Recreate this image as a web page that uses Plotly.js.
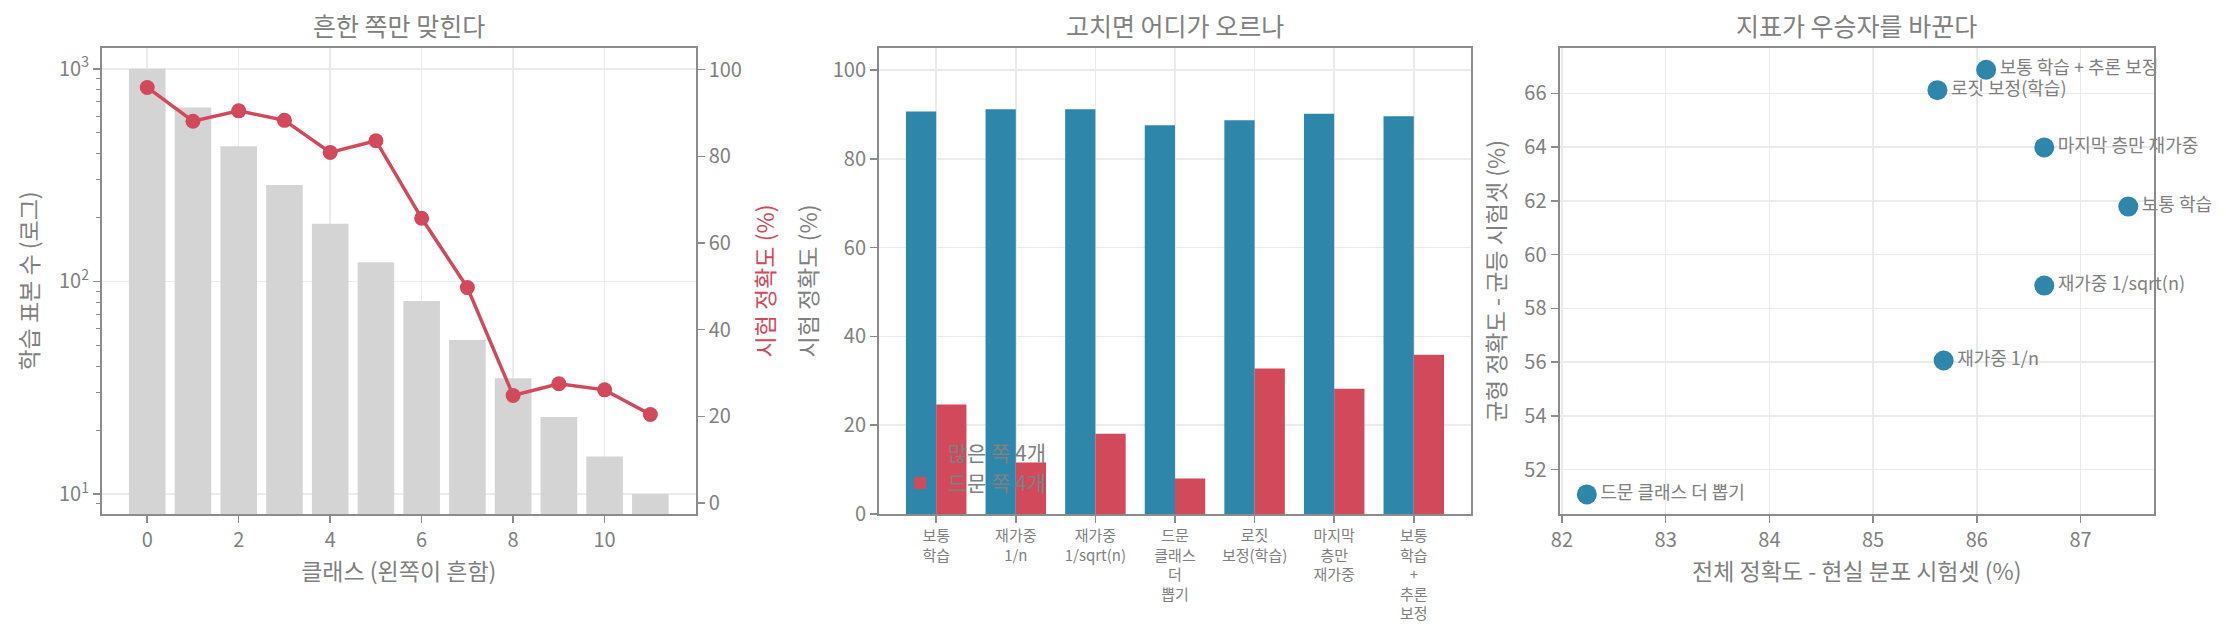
<!DOCTYPE html>
<html>
<head>
<meta charset="utf-8">
<script src="https://cdn.plot.ly/plotly-3.0.1.min.js"></script>
<style>
  html, body { margin: 0; padding: 0; background: #fff; }
  #chart { width: 2226px; height: 642px; }
</style>
</head>
<body>
<div id="chart"></div>
<script>
// panel 1: samples per class (log) and test accuracy per class
const classIds = [0, 1, 2, 3, 4, 5, 6, 7, 8, 9, 10, 11];
const trainCounts = [1000, 657, 432, 284, 187, 123, 81, 53, 35, 23, 15, 10];
const classAccuracy = [95.9, 88.1, 90.5, 88.3, 80.9, 83.6, 65.7, 49.7, 24.8, 27.5, 26.1, 20.4];
const logMajorTicks = [10, 100, 1000];
const logMajorText = ["10<sup>1</sup>", "10<sup>2</sup>", "10<sup>3</sup>"];
const logMinorTicks = [8, 9, 20, 30, 40, 50, 60, 70, 80, 90, 200, 300, 400, 500, 600, 700, 800, 900];

// panel 2: fixes vs. head / tail accuracy
const methodLabels = [
  "보통<br>학습",
  "재가중<br>1/n",
  "재가중<br>1/sqrt(n)",
  "드문<br>클래스<br>더<br>뽑기",
  "로짓<br>보정(학습)",
  "마지막<br>층만<br>재가중",
  "보통<br>학습<br>+<br>추론<br>보정",
];
const headAccuracy = [90.7, 91.2, 91.2, 87.6, 88.7, 90.2, 89.6];
const tailAccuracy = [24.7, 11.6, 18.1, 8.0, 32.8, 28.2, 35.9];

// panel 3: overall vs balanced accuracy
const pointNames = [
  "보통 학습 + 추론 보정",
  "로짓 보정(학습)",
  "마지막 층만 재가중",
  "보통 학습",
  "재가중 1/sqrt(n)",
  "재가중 1/n",
  "드문 클래스 더 뽑기",
];
const overallAccuracy = [86.09, 85.62, 86.65, 87.46, 86.65, 85.68, 82.24];
const balancedAccuracy = [66.88, 66.12, 63.99, 61.79, 58.85, 56.06, 51.08];

const BLUE = "#2e86ab";
const RED = "#d1495b";
const GRAY_TEXT = "#808080";
const AXIS_GRAY = "#8c8c8c";
const GRID = "#ebebeb";
const FONT = "Noto Sans CJK KR, Noto Sans, sans-serif";

const baseAxis = {
  showline: true,
  linecolor: AXIS_GRAY,
  linewidth: 2,
  mirror: true,
  ticks: "outside",
  ticklen: 7,
  tickwidth: 1.5,
  tickcolor: AXIS_GRAY,
  showgrid: true,
  gridcolor: GRID,
  gridwidth: 1.5,
  zeroline: false,
  tickfont: { size: 20, color: GRAY_TEXT },
  title: { font: { size: 23, color: GRAY_TEXT } },
};

const countBars = {
  x: classIds,
  y: trainCounts,
  type: "bar",
  width: 0.8,
  marker: { color: "#d4d4d4" },
  xaxis: "x",
  yaxis: "y",
  showlegend: false,
  hoverinfo: "skip",
};

const accuracyLine = {
  x: classIds,
  y: classAccuracy,
  type: "scatter",
  mode: "lines+markers",
  line: { color: RED, width: 3.5 },
  marker: { color: RED, size: 15 },
  xaxis: "x",
  yaxis: "y2",
  showlegend: false,
};

const headBars = {
  x: methodLabels,
  y: headAccuracy,
  type: "bar",
  width: 0.38,
  offset: -0.38,
  marker: { color: BLUE },
  name: "많은 쪽 4개",
  xaxis: "x2",
  yaxis: "y3",
};

const tailBars = {
  x: methodLabels,
  y: tailAccuracy,
  type: "bar",
  width: 0.38,
  offset: 0,
  marker: { color: RED },
  name: "드문 쪽 4개",
  xaxis: "x2",
  yaxis: "y3",
};

const tradeoffPoints = {
  x: overallAccuracy,
  y: balancedAccuracy,
  text: pointNames,
  type: "scatter",
  mode: "markers+text",
  textposition: "middle right",
  textfont: { size: 18, color: GRAY_TEXT, family: FONT },
  cliponaxis: false,
  marker: { color: BLUE, size: 20 },
  xaxis: "x3",
  yaxis: "y4",
  showlegend: false,
};

const panelTitle = (text, xCenter) => ({
  text: text,
  xref: "paper",
  yref: "paper",
  x: xCenter,
  y: 1.05,
  xanchor: "center",
  yanchor: "middle",
  showarrow: false,
  font: { size: 25, color: GRAY_TEXT },
});

const chartLayout = {
  width: 2226,
  height: 642,
  margin: { l: 0, r: 0, t: 48, b: 128 },
  paper_bgcolor: "#ffffff",
  plot_bgcolor: "#ffffff",
  font: { family: FONT, color: GRAY_TEXT },
  barmode: "overlay",
  xaxis: {
    ...baseAxis,
    domain: [0.0458, 0.3125],
    range: [-0.99, 11.99],
    tickvals: [0, 2, 4, 6, 8, 10],
    title: { ...baseAxis.title, text: "클래스 (왼쪽이 흔함)", standoff: 8 },
    anchor: "y",
  },
  yaxis: {
    ...baseAxis,
    type: "log",
    range: [0.906, 3.098],
    tickvals: logMajorTicks,
    ticktext: logMajorText,
    minor: {
      tickmode: "array",
      tickvals: logMinorTicks,
      ticks: "outside",
      ticklen: 4,
      tickwidth: 1,
      tickcolor: AXIS_GRAY,
      showgrid: false,
    },
    title: { ...baseAxis.title, text: "학습 표본 수 (로그)", standoff: 14 },
    anchor: "x",
  },
  yaxis2: {
    ...baseAxis,
    overlaying: "y",
    side: "right",
    range: [-2.55, 105],
    dtick: 20,
    showgrid: false,
    mirror: false,
    title: { text: "시험 정확도 (%)", font: { size: 23, color: RED }, standoff: 17 },
    anchor: "x",
  },
  xaxis2: {
    ...baseAxis,
    domain: [0.3949, 0.6608],
    type: "category",
    range: [-0.718, 6.718],
    tickfont: { size: 15, color: GRAY_TEXT },
    anchor: "y3",
  },
  yaxis3: {
    ...baseAxis,
    range: [0, 105],
    dtick: 20,
    title: { ...baseAxis.title, text: "시험 정확도 (%)", standoff: 9 },
    anchor: "x2",
  },
  xaxis3: {
    ...baseAxis,
    domain: [0.7006, 0.9677],
    range: [81.977, 87.709],
    dtick: 1,
    title: { ...baseAxis.title, text: "전체 정확도 - 현실 분포 시험셋 (%)", standoff: 8 },
    anchor: "y4",
  },
  yaxis4: {
    ...baseAxis,
    range: [50.35, 67.69],
    dtick: 2,
    title: { ...baseAxis.title, text: "균형 정확도 - 균등 시험셋 (%)", standoff: 12 },
    anchor: "x3",
  },
  legend: {
    x: 0.401,
    y: 0.175,
    xanchor: "left",
    yanchor: "top",
    bgcolor: "rgba(0,0,0,0)",
    font: { size: 21, color: GRAY_TEXT },
    itemwidth: 45,
    traceorder: "normal",
  },
  annotations: [
    panelTitle("흔한 쪽만 맞힌다", 0.1792),
    panelTitle("고치면 어디가 오르나", 0.5279),
    panelTitle("지표가 우승자를 바꾼다", 0.8342),
  ],
};

const chartConfig = { displayModeBar: false, staticPlot: true };

Plotly.newPlot("chart", [countBars, accuracyLine, headBars, tailBars, tradeoffPoints], chartLayout, chartConfig);
</script>
</body>
</html>
